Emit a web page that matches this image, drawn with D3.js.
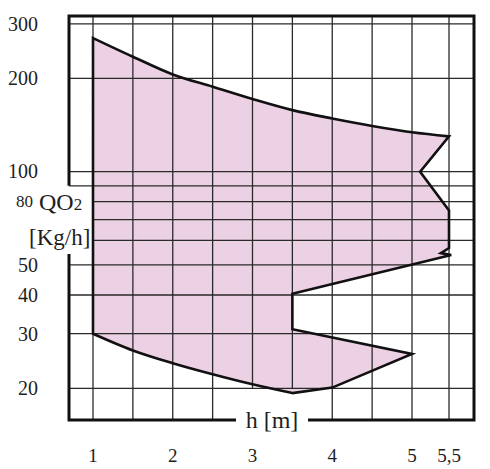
<!DOCTYPE html>
<html><head><meta charset="utf-8">
<script src="https://cdn.jsdelivr.net/npm/d3@7"></script>
<style>html,body{margin:0;padding:0;background:#fff}svg{display:block}text{font-family:"Liberation Serif","Times New Roman",serif;fill:#1e1e1e}</style>
</head><body><svg id="c" width="490" height="469"></svg>
<script>
// ---- data ----
const yGridValues = [20, 30, 40, 50, 60, 70, 80, 90, 100, 200, 300];
const yTickValues = [20, 30, 40, 50, 100, 200, 300];
const yTickLabels = ["20", "30", "40", "50", "100", "200", "300"];
const xGridValues = [1, 1.5, 2, 2.5, 3, 3.5, 4, 4.5, 5, 5.5];
const xTickValues = [1, 2, 3, 4, 5, 5.5];
const xTickLabels = ["1", "2", "3", "4", "5", "5,5"];
// operating region outline (h [m], QO2 [Kg/h])
const topH = [1, 1.5, 2, 2.5, 3, 3.5, 4, 4.5, 5, 5.5];
const topQ = [270, 235, 206, 188, 171.6, 158, 148.5, 140.5, 134, 130];
const rightH = [5.5, 5.11, 5.5, 5.5, 5.39, 5.53, 3.5, 3.5, 5, 4, 3.5];
const rightQ = [130, 100, 75, 56.7, 54.6, 53.8, 40.4, 31, 25.8, 20.1, 19.3];
const bottomH = [3.5, 3, 2.5, 2, 1.5, 1];
const bottomQ = [19.3, 20.6, 22.2, 24.1, 26.5, 30];

// ---- layout ----
const L = 69, R = 474, T = 16, B = 420;
const svg = d3.select("#c");
const x = d3.scaleLinear().domain([1, 5, 5.5]).range([93, 412, 449]);
const y = d3.scaleLog().domain([15.8, 318]).range([B, T]);

const zip = (hs, qs) => hs.map((h, i) => [h, qs[i]]);
const smooth = d3.line().x(d => x(d[0])).y(d => y(d[1])).curve(d3.curveMonotoneX);
const smoothRev = d3.line().x(d => x(d[0])).y(d => y(d[1])).curve(d3.curveCatmullRom.alpha(0.5));
const straight = d3.line().x(d => x(d[0])).y(d => y(d[1]));
const regionPath = smooth(zip(topH, topQ)) +
  straight(zip(rightH, rightQ)).replace(/^M/, "L") +
  smoothRev(zip(bottomH, bottomQ)).replace(/^M/, "L") + "Z";

// fill
svg.append("path").attr("d", regionPath).attr("fill", "#ecd1e4").attr("stroke", "none");

// grid
const g = svg.append("g").attr("stroke", "#2a2a2a").attr("stroke-width", 1.3);
yGridValues.forEach(v => {
  const x0 = (v >= 60 && v <= 80) ? x(1) : L;
  g.append("line").attr("x1", x0).attr("x2", R).attr("y1", y(v)).attr("y2", y(v));
});
xGridValues.forEach(v => {
  const y1 = (v >= 3 && v <= 3.5) ? y(20) : B;
  g.append("line").attr("x1", x(v)).attr("x2", x(v)).attr("y1", T).attr("y2", y1);
});

// outline
svg.append("path").attr("d", regionPath).attr("fill", "none").attr("stroke", "#111")
  .attr("stroke-width", 2.6).attr("stroke-linejoin", "miter");

// frame
const f = svg.append("g").attr("stroke", "#111").attr("stroke-width", 3).attr("fill", "none");
f.append("path").attr("d", `M${L},${y(90)}V${T}H${R}V${B}H308`);
f.append("path").attr("d", `M${L},254V${B}H236`);

// y tick labels
svg.append("g").selectAll("text").data(yTickValues).join("text")
  .attr("x", 38).attr("y", d => y(d)).attr("dy", "0.34em").attr("text-anchor", "end")
  .attr("font-size", 20).text((d, i) => yTickLabels[i]);
svg.append("text").attr("x", 33).attr("y", y(80)).attr("dy", "0.34em").attr("text-anchor", "end")
  .attr("font-size", 17).text("80");

// x tick labels
svg.append("g").selectAll("text").data(xTickValues).join("text")
  .attr("x", d => x(d)).attr("y", 462).attr("text-anchor", "middle")
  .attr("font-size", 19).text((d, i) => xTickLabels[i]);

// axis titles
const qt = svg.append("text").attr("x", 39).attr("y", 210).attr("font-size", 24);
qt.append("tspan").text("QO");
qt.append("tspan").attr("font-size", 17).text("2");
svg.append("text").attr("x", 29).attr("y", 245).attr("font-size", 23).text("[Kg/h]");
svg.append("text").attr("x", 272).attr("y", 428).attr("text-anchor", "middle").attr("font-size", 24).text("h [m]");
</script></body></html>
